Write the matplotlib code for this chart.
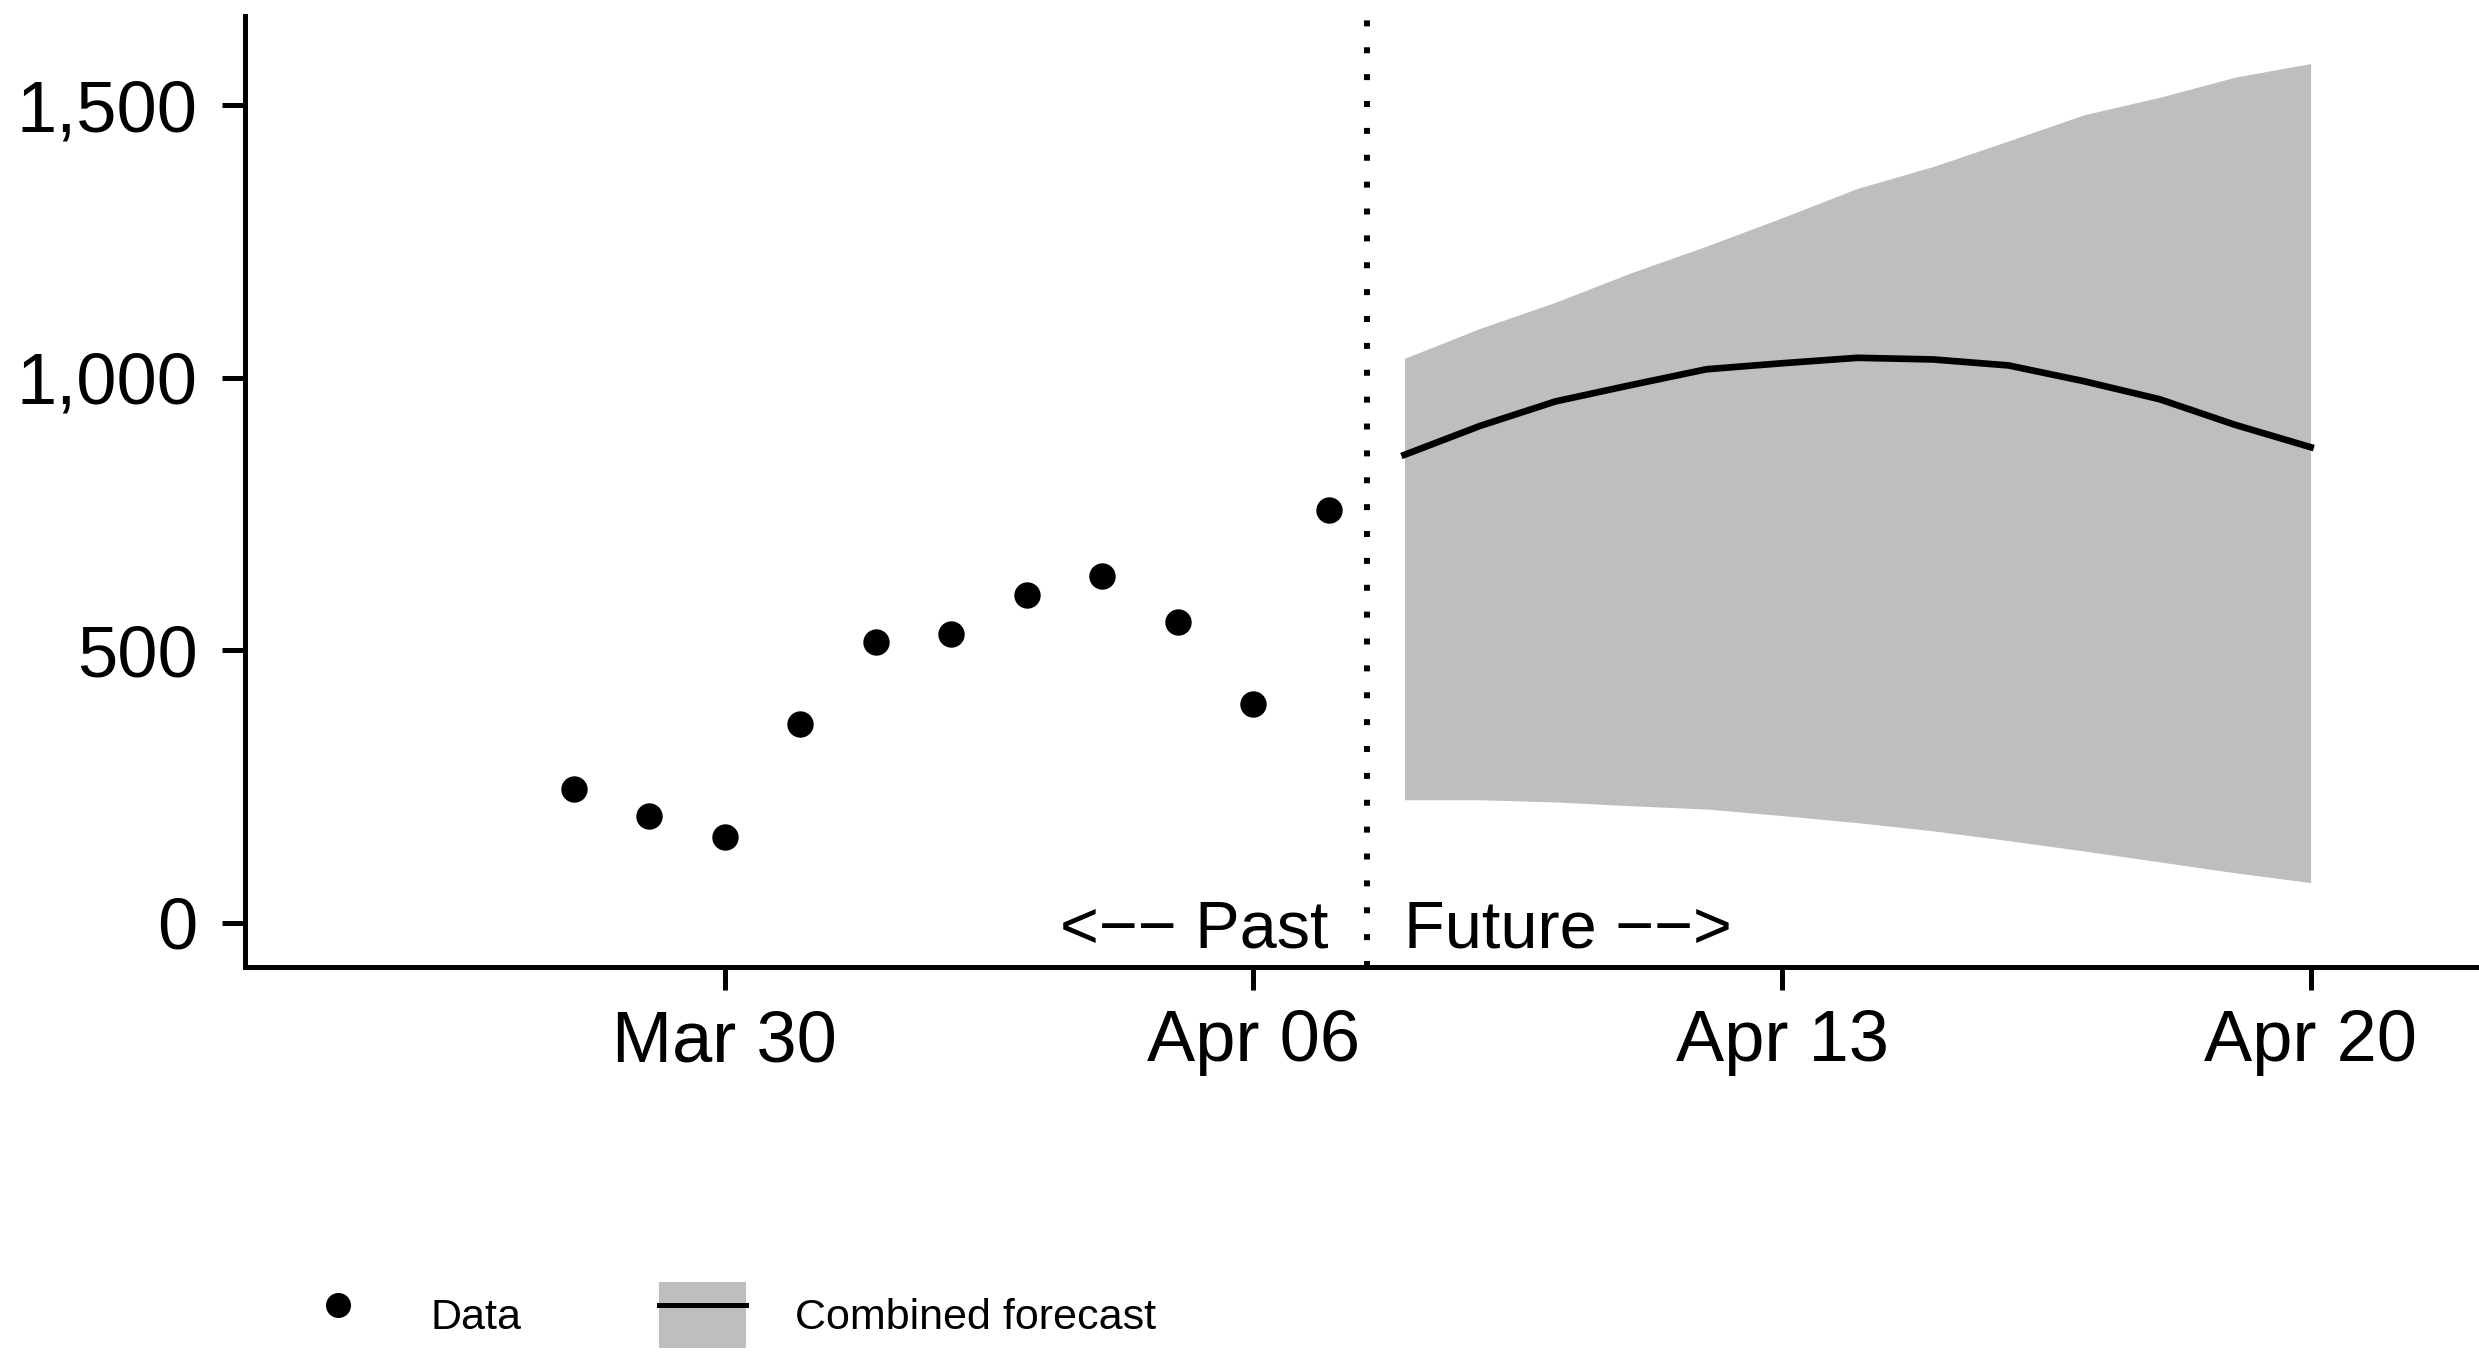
import numpy as np
import pandas as pd
import matplotlib
matplotlib.use("Agg")
import matplotlib.pyplot as plt
import matplotlib.dates as mdates
from matplotlib.lines import Line2D
from matplotlib.patches import Patch
from matplotlib.ticker import FuncFormatter

plt.rcParams['font.family'] = ['Liberation Sans', 'DejaVu Sans']

# observed counts
obs_dates = pd.to_datetime(["2020-03-28", "2020-03-29", "2020-03-30", "2020-03-31",
                            "2020-04-01", "2020-04-02", "2020-04-03", "2020-04-04",
                            "2020-04-05", "2020-04-06", "2020-04-07"])
obs_values = [245, 197, 157, 365, 515, 530, 602, 636, 553, 402, 757]

# combined forecast
fc_dates = pd.to_datetime(["2020-04-08", "2020-04-09", "2020-04-10", "2020-04-11",
                           "2020-04-12", "2020-04-13", "2020-04-14", "2020-04-15",
                           "2020-04-16", "2020-04-17", "2020-04-18", "2020-04-19",
                           "2020-04-20"])
fc_median = [859, 912, 957, 987, 1016, 1027, 1037, 1034, 1023, 994, 961, 914, 873]
fc_upper = [1036, 1091, 1139, 1193, 1242, 1294, 1348, 1388, 1435, 1483, 1515, 1552, 1577]
fc_lower = [226, 226, 222, 215, 209, 197, 184, 169, 151, 132, 112, 92, 74]

tick_dates = pd.to_datetime(["2020-03-30", "2020-04-06", "2020-04-13", "2020-04-20"])
y_ticks = [0, 500, 1000, 1500]
split_date = pd.Timestamp("2020-04-07 12:00")
grey = "#BEBEBE"

fig = plt.figure(figsize=(24.79, 13.55), dpi=100)
ax = fig.add_axes([0.099, 0.2863, 0.901, 0.7022])

ax.fill_between(fc_dates, fc_lower, fc_upper, color=grey, lw=0, zorder=1)
ax.plot(fc_dates, fc_median, color="black", lw=4.8, zorder=2)
ax.scatter(obs_dates, obs_values, s=19 ** 2, color="black", lw=0, zorder=3)
ax.axvline(split_date, color="black", lw=4.3, linestyle=(0, (1, 3.5)), zorder=2)

ax.text(pd.Timestamp("2020-04-07"), -45, "<\u2212\u2212 Past", ha="right", va="baseline", fontsize=48)
ax.text(pd.Timestamp("2020-04-08"), -45, "Future \u2212\u2212>", ha="left", va="baseline", fontsize=48)

x0 = mdates.date2num(tick_dates[0])
ax.set_xlim(x0 - 6.35, x0 + 23.23)
ax.set_ylim(-81, 1665)
ax.set_xticks(tick_dates)
ax.xaxis.set_major_formatter(mdates.DateFormatter("%b %d"))
ax.set_yticks(y_ticks)
ax.yaxis.set_major_formatter(FuncFormatter(lambda v, p: f"{v:,.0f}"))

for s in ["top", "right"]:
    ax.spines[s].set_visible(False)
for s in ["left", "bottom"]:
    ax.spines[s].set_linewidth(3.6)
ax.tick_params(axis="both", width=3.6, length=16.5, labelsize=52, color="black")
ax.tick_params(axis="x", pad=14)
ax.tick_params(axis="y", pad=18)

handles = [Line2D([], [], marker="o", color="black", ls="none", markersize=17),
           (Patch(facecolor=grey, edgecolor="none"), Line2D([], [], color="black", lw=3.6))]
fig.legend(handles, ["Data", "Combined forecast"], ncol=2, frameon=False,
           loc="center left", bbox_to_anchor=(295 / 2479, 40 / 1355),
           fontsize=31, handlelength=2.0, handleheight=2.0,
           handletextpad=1.15, columnspacing=3.2, borderpad=0, borderaxespad=0)

fig.savefig("out.png", dpi=100)
